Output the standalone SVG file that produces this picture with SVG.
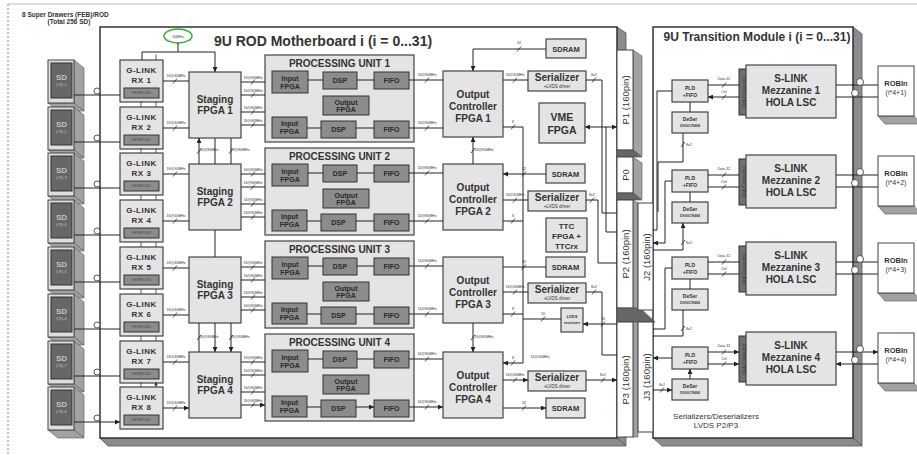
<svg xmlns="http://www.w3.org/2000/svg" width="917" height="455" viewBox="0 0 917 455">
<defs>
<marker id="ah" viewBox="0 0 10 10" refX="10" refY="5" markerWidth="6" markerHeight="5" markerUnits="userSpaceOnUse" orient="auto-start-reverse"><path d="M0,0L10,5L0,10z" fill="#222"/></marker>
<marker id="sm" viewBox="0 0 10 10" refX="10" refY="5" markerWidth="3.5" markerHeight="3.5" markerUnits="userSpaceOnUse" orient="auto"><path d="M0,0L10,5L0,10z" fill="#333"/></marker>
</defs>
<style>
text{font-family:"Liberation Sans",Arial,sans-serif;fill:#333}
.c{text-anchor:middle}
.box{fill:#e4e4e4;stroke:#444;stroke-width:1.2}
.dk{fill:#8c8c8c;stroke:#333;stroke-width:1}
.brd{fill:#fff;stroke:#333;stroke-width:1.5}
.shd{fill:#8c8c8c;stroke:#555;stroke-width:.8}
.cap{fill:#666;stroke:#444;stroke-width:.6}
.side{fill:#a2a2a2;stroke:#555;stroke-width:.6}
.wh{fill:#fff;stroke:#444;stroke-width:1}
.ln{fill:none;stroke:#222;stroke-width:1}
.a{marker-end:url(#ah)}
.d{marker-start:url(#ah);marker-end:url(#ah)}
.s{fill:none;stroke:#333;stroke-width:.8;marker-end:url(#sm)}
.sl{fill:none;stroke:#222;stroke-width:.8}
.t{font-size:3.6px;fill:#444;text-anchor:middle}
.gl{font-size:8px;font-weight:bold;letter-spacing:.5px;text-anchor:middle}
.st{font-size:10px;font-weight:bold;text-anchor:middle}
.in{font-size:7px;font-weight:bold;text-anchor:middle;fill:#2a2a2a}
.sd{font-size:8px;font-weight:bold;text-anchor:middle;fill:#c4c4c4}
.sdt{font-size:3.6px;text-anchor:middle;fill:#c4c4c4}
.sl10{font-size:10px;font-weight:bold;text-anchor:middle}
.rot{font-size:9.5px;text-anchor:middle}
.rb{font-size:7px;text-anchor:middle;fill:#333}
</style>
<rect width="917" height="455" fill="#fff"/>
<g id="frame">
<line x1="8" y1="4" x2="917" y2="4" stroke="#bbb" stroke-width="1"/>
<line x1="8" y1="4" x2="8" y2="455" stroke="#888" stroke-width="1" stroke-dasharray="2,2"/>
<text x="22" y="16.5" font-size="6.5" font-weight="bold">8 Super Drawers (FEB)/ROD</text>
<text x="69" y="24" font-size="6.5" font-weight="bold" class="c">(Total 256 SD)</text>
</g>
<g id="rod-board">
<polygon class="shd" points="617,27 626,33 626,446 617,438"/>
<polygon class="shd" points="100,438 617,438 626,446 108,446"/>
<rect class="brd" x="100" y="27" width="517" height="411"/>
<text x="323" y="46" font-size="14" font-weight="bold" class="c">9U ROD Motherboard i (i = 0...31)</text>
</g>
<g id="tm-board">
<polygon class="shd" points="853,27 862,34 862,446 853,438"/>
<polygon class="shd" points="653,438 853,438 862,446 662,446"/>
<rect class="brd" x="653" y="27" width="200" height="411"/>
<text x="757" y="41" font-size="13" font-weight="bold" class="c" textLength="187" lengthAdjust="spacingAndGlyphs">9U Transition Module i (i = 0...31)</text>
<text x="716" y="419" font-size="8" class="c">Serializers/Deserializers</text>
<text x="716" y="428" font-size="8" class="c">LVDS P2/P3</text>
</g>
<g id="sd1"><polygon class="side" points="74,60 84,68 84,111 74,103"/><polygon class="side" points="48,103 74,103 84,111 58,111"/><rect x="48" y="60" width="26" height="43" fill="#dedede" stroke="#444"/><rect x="51" y="63" width="21" height="35" fill="#666" stroke="#333"/><text class="sd" x="61.5" y="80">SD</text><text class="sdt" x="61.5" y="86">(i*8)+1</text></g>
<g id="sd2"><polygon class="side" points="74,107 84,115 84,158 74,150"/><polygon class="side" points="48,150 74,150 84,158 58,158"/><rect x="48" y="107" width="26" height="43" fill="#dedede" stroke="#444"/><rect x="51" y="110" width="21" height="35" fill="#666" stroke="#333"/><text class="sd" x="61.5" y="127">SD</text><text class="sdt" x="61.5" y="133">(i*8)+2</text></g>
<g id="sd3"><polygon class="side" points="74,153 84,161 84,204 74,196"/><polygon class="side" points="48,196 74,196 84,204 58,204"/><rect x="48" y="153" width="26" height="43" fill="#dedede" stroke="#444"/><rect x="51" y="156" width="21" height="35" fill="#666" stroke="#333"/><text class="sd" x="61.5" y="173">SD</text><text class="sdt" x="61.5" y="179">(i*8)+3</text></g>
<g id="sd4"><polygon class="side" points="74,200 84,208 84,251 74,243"/><polygon class="side" points="48,243 74,243 84,251 58,251"/><rect x="48" y="200" width="26" height="43" fill="#dedede" stroke="#444"/><rect x="51" y="203" width="21" height="35" fill="#666" stroke="#333"/><text class="sd" x="61.5" y="220">SD</text><text class="sdt" x="61.5" y="226">(i*8)+4</text></g>
<g id="sd5"><polygon class="side" points="74,247 84,255 84,298 74,290"/><polygon class="side" points="48,290 74,290 84,298 58,298"/><rect x="48" y="247" width="26" height="43" fill="#dedede" stroke="#444"/><rect x="51" y="250" width="21" height="35" fill="#666" stroke="#333"/><text class="sd" x="61.5" y="267">SD</text><text class="sdt" x="61.5" y="273">(i*8)+5</text></g>
<g id="sd6"><polygon class="side" points="74,294 84,302 84,345 74,337"/><polygon class="side" points="48,337 74,337 84,345 58,345"/><rect x="48" y="294" width="26" height="43" fill="#dedede" stroke="#444"/><rect x="51" y="297" width="21" height="35" fill="#666" stroke="#333"/><text class="sd" x="61.5" y="314">SD</text><text class="sdt" x="61.5" y="320">(i*8)+6</text></g>
<g id="sd7"><polygon class="side" points="74,341 84,349 84,392 74,384"/><polygon class="side" points="48,384 74,384 84,392 58,392"/><rect x="48" y="341" width="26" height="43" fill="#dedede" stroke="#444"/><rect x="51" y="344" width="21" height="35" fill="#666" stroke="#333"/><text class="sd" x="61.5" y="361">SD</text><text class="sdt" x="61.5" y="367">(i*8)+7</text></g>
<g id="sd8"><polygon class="side" points="74,387 84,395 84,438 74,430"/><polygon class="side" points="48,430 74,430 84,438 58,438"/><rect x="48" y="387" width="26" height="43" fill="#dedede" stroke="#444"/><rect x="51" y="390" width="21" height="35" fill="#666" stroke="#333"/><text class="sd" x="61.5" y="407">SD</text><text class="sdt" x="61.5" y="413">(i*8)+8</text></g>
<g id="clk"><ellipse cx="178" cy="36" rx="14" ry="7" fill="#fff" stroke="#3a3" stroke-width="1.5"/><text class="t" x="178" y="37.5">40MHz</text></g>
<g id="glink1"><rect class="box" x="120" y="60" width="43" height="42"/><text class="gl" x="141.5" y="73">G-LINK</text><text class="gl" x="141.5" y="83">RX 1</text><rect class="dk" x="124" y="88" width="35" height="10"/><text class="t" x="141.5" y="94.2">HDMP1034</text></g>
<g id="glink2"><rect class="box" x="120" y="107" width="43" height="42"/><text class="gl" x="141.5" y="120">G-LINK</text><text class="gl" x="141.5" y="130">RX 2</text><rect class="dk" x="124" y="135" width="35" height="10"/><text class="t" x="141.5" y="141.2">HDMP1034</text></g>
<g id="glink3"><rect class="box" x="120" y="153" width="43" height="42"/><text class="gl" x="141.5" y="166">G-LINK</text><text class="gl" x="141.5" y="176">RX 3</text><rect class="dk" x="124" y="181" width="35" height="10"/><text class="t" x="141.5" y="187.2">HDMP1034</text></g>
<g id="glink4"><rect class="box" x="120" y="200" width="43" height="42"/><text class="gl" x="141.5" y="213">G-LINK</text><text class="gl" x="141.5" y="223">RX 4</text><rect class="dk" x="124" y="228" width="35" height="10"/><text class="t" x="141.5" y="234.2">HDMP1034</text></g>
<g id="glink5"><rect class="box" x="120" y="247" width="43" height="42"/><text class="gl" x="141.5" y="260">G-LINK</text><text class="gl" x="141.5" y="270">RX 5</text><rect class="dk" x="124" y="275" width="35" height="10"/><text class="t" x="141.5" y="281.2">HDMP1034</text></g>
<g id="glink6"><rect class="box" x="120" y="294" width="43" height="42"/><text class="gl" x="141.5" y="307">G-LINK</text><text class="gl" x="141.5" y="317">RX 6</text><rect class="dk" x="124" y="322" width="35" height="10"/><text class="t" x="141.5" y="328.2">HDMP1034</text></g>
<g id="glink7"><rect class="box" x="120" y="341" width="43" height="42"/><text class="gl" x="141.5" y="354">G-LINK</text><text class="gl" x="141.5" y="364">RX 7</text><rect class="dk" x="124" y="369" width="35" height="10"/><text class="t" x="141.5" y="375.2">HDMP1034</text></g>
<g id="glink8"><rect class="box" x="120" y="387" width="43" height="42"/><text class="gl" x="141.5" y="400">G-LINK</text><text class="gl" x="141.5" y="410">RX 8</text><rect class="dk" x="124" y="415" width="35" height="10"/><text class="t" x="141.5" y="421.2">HDMP1034</text></g>
<g id="staging1"><rect class="box" x="189" y="72" width="52" height="66"/><text class="st" x="215" y="103">Staging</text><text class="st" x="215" y="114">FPGA 1</text></g>
<g id="staging2"><rect class="box" x="189" y="164" width="52" height="66"/><text class="st" x="215" y="195">Staging</text><text class="st" x="215" y="206">FPGA 2</text></g>
<g id="staging3"><rect class="box" x="189" y="257" width="52" height="66"/><text class="st" x="215" y="288">Staging</text><text class="st" x="215" y="299">FPGA 3</text></g>
<g id="staging4"><rect class="box" x="189" y="352" width="52" height="66"/><text class="st" x="215" y="383">Staging</text><text class="st" x="215" y="394">FPGA 4</text></g>
<g id="pu1"><rect class="box" x="265" y="55" width="149" height="87"/><text class="st" x="339.5" y="67">PROCESSING UNIT 1</text>
<rect class="dk" x="272" y="71" width="36" height="22"/><text class="in" x="290" y="80.5">Input</text><text class="in" x="290" y="88.5">FPGA</text>
<rect class="dk" x="323" y="72" width="34" height="17"/><text class="in" x="340" y="83">DSP</text>
<rect class="dk" x="374" y="72" width="35" height="17"/><text class="in" x="391.5" y="83">FIFO</text>
<rect class="dk" x="323" y="96" width="46" height="19"/><text class="in" x="346" y="104.5">Output</text><text class="in" x="346" y="112">FPGA</text>
<rect class="dk" x="272" y="117" width="35" height="21"/><text class="in" x="289.5" y="126">Input</text><text class="in" x="289.5" y="134">FPGA</text>
<rect class="dk" x="321" y="121" width="35" height="17"/><text class="in" x="338.5" y="132">DSP</text>
<rect class="dk" x="374" y="121" width="35" height="17"/><text class="in" x="391.5" y="132">FIFO</text></g>
<g id="pu2"><rect class="box" x="265" y="148" width="149" height="87"/><text class="st" x="339.5" y="160">PROCESSING UNIT 2</text>
<rect class="dk" x="272" y="164" width="36" height="22"/><text class="in" x="290" y="173.5">Input</text><text class="in" x="290" y="181.5">FPGA</text>
<rect class="dk" x="323" y="165" width="34" height="17"/><text class="in" x="340" y="176">DSP</text>
<rect class="dk" x="374" y="165" width="35" height="17"/><text class="in" x="391.5" y="176">FIFO</text>
<rect class="dk" x="323" y="189" width="46" height="19"/><text class="in" x="346" y="197.5">Output</text><text class="in" x="346" y="205">FPGA</text>
<rect class="dk" x="272" y="210" width="35" height="21"/><text class="in" x="289.5" y="219">Input</text><text class="in" x="289.5" y="227">FPGA</text>
<rect class="dk" x="321" y="214" width="35" height="17"/><text class="in" x="338.5" y="225">DSP</text>
<rect class="dk" x="374" y="214" width="35" height="17"/><text class="in" x="391.5" y="225">FIFO</text></g>
<g id="pu3"><rect class="box" x="265" y="241" width="149" height="87"/><text class="st" x="339.5" y="253">PROCESSING UNIT 3</text>
<rect class="dk" x="272" y="257" width="36" height="22"/><text class="in" x="290" y="266.5">Input</text><text class="in" x="290" y="274.5">FPGA</text>
<rect class="dk" x="323" y="258" width="34" height="17"/><text class="in" x="340" y="269">DSP</text>
<rect class="dk" x="374" y="258" width="35" height="17"/><text class="in" x="391.5" y="269">FIFO</text>
<rect class="dk" x="323" y="282" width="46" height="19"/><text class="in" x="346" y="290.5">Output</text><text class="in" x="346" y="298">FPGA</text>
<rect class="dk" x="272" y="303" width="35" height="21"/><text class="in" x="289.5" y="312">Input</text><text class="in" x="289.5" y="320">FPGA</text>
<rect class="dk" x="321" y="307" width="35" height="17"/><text class="in" x="338.5" y="318">DSP</text>
<rect class="dk" x="374" y="307" width="35" height="17"/><text class="in" x="391.5" y="318">FIFO</text></g>
<g id="pu4"><rect class="box" x="265" y="334" width="149" height="87"/><text class="st" x="339.5" y="346">PROCESSING UNIT 4</text>
<rect class="dk" x="272" y="350" width="36" height="22"/><text class="in" x="290" y="359.5">Input</text><text class="in" x="290" y="367.5">FPGA</text>
<rect class="dk" x="323" y="351" width="34" height="17"/><text class="in" x="340" y="362">DSP</text>
<rect class="dk" x="374" y="351" width="35" height="17"/><text class="in" x="391.5" y="362">FIFO</text>
<rect class="dk" x="323" y="375" width="46" height="19"/><text class="in" x="346" y="383.5">Output</text><text class="in" x="346" y="391">FPGA</text>
<rect class="dk" x="272" y="396" width="35" height="21"/><text class="in" x="289.5" y="405">Input</text><text class="in" x="289.5" y="413">FPGA</text>
<rect class="dk" x="321" y="400" width="35" height="17"/><text class="in" x="338.5" y="411">DSP</text>
<rect class="dk" x="374" y="400" width="35" height="17"/><text class="in" x="391.5" y="411">FIFO</text></g>
<g id="oc1"><rect class="box" x="443" y="71" width="60" height="66"/><text class="st" x="473" y="97.5">Output</text><text class="st" x="473" y="109.5">Controller</text><text class="st" x="473" y="121.5">FPGA 1</text></g>
<g id="oc2"><rect class="box" x="443" y="164" width="60" height="66"/><text class="st" x="473" y="190.5">Output</text><text class="st" x="473" y="202.5">Controller</text><text class="st" x="473" y="214.5">FPGA 2</text></g>
<g id="oc3"><rect class="box" x="443" y="257" width="60" height="66"/><text class="st" x="473" y="283.5">Output</text><text class="st" x="473" y="295.5">Controller</text><text class="st" x="473" y="307.5">FPGA 3</text></g>
<g id="oc4"><rect class="box" x="443" y="352" width="60" height="66"/><text class="st" x="473" y="378.5">Output</text><text class="st" x="473" y="390.5">Controller</text><text class="st" x="473" y="402.5">FPGA 4</text></g>
<g id="sdram1"><rect class="box" x="546" y="39" width="40" height="19"/><text x="566" y="51.5" font-size="7.5" font-weight="bold" class="c">SDRAM</text></g>
<g id="sdram2"><rect class="box" x="546" y="164" width="39" height="19"/><text x="565.5" y="176.5" font-size="7.5" font-weight="bold" class="c">SDRAM</text></g>
<g id="sdram3"><rect class="box" x="546" y="257" width="39" height="20"/><text x="565.5" y="270" font-size="7.5" font-weight="bold" class="c">SDRAM</text></g>
<g id="sdram4"><rect class="box" x="546" y="398" width="39" height="20"/><text x="565.5" y="411" font-size="7.5" font-weight="bold" class="c">SDRAM</text></g>
<g id="ser1"><rect class="box" x="528" y="71" width="58" height="20"/><text class="st" x="557" y="80.5">Serializer</text><text x="557" y="88" font-size="4.5" class="c">+LVDS driver</text></g>
<g id="ser2"><rect class="box" x="528" y="191" width="58" height="20"/><text class="st" x="557" y="200.5">Serializer</text><text x="557" y="208" font-size="4.5" class="c">+LVDS driver</text></g>
<g id="ser3"><rect class="box" x="528" y="283" width="58" height="20"/><text class="st" x="557" y="292.5">Serializer</text><text x="557" y="300" font-size="4.5" class="c">+LVDS driver</text></g>
<g id="ser4"><rect class="box" x="528" y="371" width="58" height="20"/><text class="st" x="557" y="380.5">Serializer</text><text x="557" y="388" font-size="4.5" class="c">+LVDS driver</text></g>
<g id="vme"><rect class="box" x="539" y="103" width="46" height="40"/><text x="562" y="121" font-size="10.5" font-weight="bold" class="c">VME</text><text x="562" y="134" font-size="10.5" font-weight="bold" class="c">FPGA</text></g>
<g id="ttc"><rect class="box" x="546" y="218" width="41" height="34"/><text x="566.5" y="229" font-size="8" font-weight="bold" class="c">TTC</text><text x="566.5" y="239" font-size="8" font-weight="bold" class="c">FPGA +</text><text x="566.5" y="249" font-size="8" font-weight="bold" class="c">TTCrx</text></g>
<g id="lvds"><rect class="box" x="561" y="308" width="22" height="24"/><text x="572" y="318" font-size="4.2" font-weight="bold" class="c">LVDS</text><text x="572" y="324" font-size="4.2" font-weight="bold" class="c">receiver</text></g>
<g id="p1"><polygon class="side" points="633,50 642,56 642,156 633,150"/><rect class="wh" x="617" y="50" width="16" height="100"/><text class="rot" transform="translate(628.5,100) rotate(-90)">P1 (160pin)</text></g>
<g id="p0"><polygon class="cap" points="617,150 633,150 642,157 617,157"/><polygon class="side" points="633,157 642,163 642,199 633,193"/><rect class="wh" x="617" y="157" width="16" height="36"/><text class="rot" transform="translate(628.5,175) rotate(-90)">P0</text></g>
<g id="p2"><polygon class="cap" points="617,193 633,193 642,200 617,200"/><polygon class="side" points="633,200 638,203 638,310 633,308"/><rect class="wh" x="617" y="200" width="16" height="108"/><text class="rot" transform="translate(628.5,254) rotate(-90)">P2 (160pin)</text></g>
<g id="p3"><polygon class="cap" points="617,308 640,308 655,322 617,322"/><polygon class="side" points="633,322 638,322 638,437 633,437"/><rect class="wh" x="617" y="322" width="16" height="115"/><text class="rot" transform="translate(628.5,380) rotate(-90)">P3 (160pin)</text></g>
<g id="j2"><rect class="wh" x="638" y="203" width="15" height="107"/><text class="rot" transform="translate(649.5,257) rotate(-90)">J2 (160pin)</text></g>
<g id="j3"><rect class="wh" x="638" y="322" width="15" height="110"/><text class="rot" transform="translate(649.5,377) rotate(-90)">J3 (160pin)</text></g>
<g id="slink1"><rect class="box" x="672" y="80" width="36" height="22"/><text x="690" y="89.5" font-size="5" font-weight="bold" class="c">PLD</text><text x="690" y="96.5" font-size="5" font-weight="bold" class="c">+FIFO</text>
<rect class="box" x="672" y="112" width="36" height="21"/><text x="690" y="120.5" font-size="5" font-weight="bold" class="c">DeSer</text><text class="t" x="690" y="127" font-weight="bold">DS90CR484</text>
<rect x="739" y="69" width="9" height="46" fill="#707070" stroke="#333"/><text transform="translate(745.5,92) rotate(-90)" font-size="4.5" fill="#ddd" class="c">Link Connector</text>
<rect class="box" x="746" y="65" width="90" height="53"/><text class="sl10" x="791" y="82">S-LINK</text><text class="sl10" x="791" y="94">Mezzanine 1</text><text class="sl10" x="791" y="106">HOLA LSC</text></g>
<g id="slink2"><rect class="box" x="672" y="170" width="36" height="22"/><text x="690" y="179.5" font-size="5" font-weight="bold" class="c">PLD</text><text x="690" y="186.5" font-size="5" font-weight="bold" class="c">+FIFO</text>
<rect class="box" x="672" y="202" width="36" height="21"/><text x="690" y="210.5" font-size="5" font-weight="bold" class="c">DeSer</text><text class="t" x="690" y="217" font-weight="bold">DS90CR484</text>
<rect x="739" y="159" width="9" height="46" fill="#707070" stroke="#333"/><text transform="translate(745.5,182) rotate(-90)" font-size="4.5" fill="#ddd" class="c">Link Connector</text>
<rect class="box" x="746" y="155" width="90" height="53"/><text class="sl10" x="791" y="172">S-LINK</text><text class="sl10" x="791" y="184">Mezzanine 2</text><text class="sl10" x="791" y="196">HOLA LSC</text></g>
<g id="slink3"><rect class="box" x="672" y="257" width="36" height="22"/><text x="690" y="266.5" font-size="5" font-weight="bold" class="c">PLD</text><text x="690" y="273.5" font-size="5" font-weight="bold" class="c">+FIFO</text>
<rect class="box" x="672" y="289" width="36" height="21"/><text x="690" y="297.5" font-size="5" font-weight="bold" class="c">DeSer</text><text class="t" x="690" y="304" font-weight="bold">DS90CR484</text>
<rect x="739" y="246" width="9" height="46" fill="#707070" stroke="#333"/><text transform="translate(745.5,269) rotate(-90)" font-size="4.5" fill="#ddd" class="c">Link Connector</text>
<rect class="box" x="746" y="242" width="90" height="53"/><text class="sl10" x="791" y="259">S-LINK</text><text class="sl10" x="791" y="271">Mezzanine 3</text><text class="sl10" x="791" y="283">HOLA LSC</text></g>
<g id="slink4"><rect class="box" x="672" y="347" width="36" height="22"/><text x="690" y="356.5" font-size="5" font-weight="bold" class="c">PLD</text><text x="690" y="363.5" font-size="5" font-weight="bold" class="c">+FIFO</text>
<rect class="box" x="672" y="379" width="36" height="21"/><text x="690" y="387.5" font-size="5" font-weight="bold" class="c">DeSer</text><text class="t" x="690" y="394" font-weight="bold">DS90CR484</text>
<rect x="739" y="336" width="9" height="46" fill="#707070" stroke="#333"/><text transform="translate(745.5,359) rotate(-90)" font-size="4.5" fill="#ddd" class="c">Link Connector</text>
<rect class="box" x="746" y="332" width="90" height="53"/><text class="sl10" x="791" y="349">S-LINK</text><text class="sl10" x="791" y="361">Mezzanine 4</text><text class="sl10" x="791" y="373">HOLA LSC</text></g>
<g id="robin1"><polygon class="side" points="878,116 914,116 921,124 885,124"/><rect class="wh" x="878" y="66" width="36" height="50"/><text x="896" y="86" font-size="7.5" font-weight="bold" class="c">ROBIn</text><text class="rb" x="896" y="95">(i*4+1)</text></g>
<g id="robin2"><polygon class="side" points="878,206 914,206 921,214 885,214"/><rect class="wh" x="878" y="156" width="36" height="50"/><text x="896" y="176" font-size="7.5" font-weight="bold" class="c">ROBIn</text><text class="rb" x="896" y="185">(i*4+2)</text></g>
<g id="robin3"><polygon class="side" points="878,293 914,293 921,301 885,301"/><rect class="wh" x="878" y="243" width="36" height="50"/><text x="896" y="263" font-size="7.5" font-weight="bold" class="c">ROBIn</text><text class="rb" x="896" y="272">(i*4+3)</text></g>
<g id="robin4"><polygon class="side" points="878,383 914,383 921,391 885,391"/><rect class="wh" x="878" y="333" width="36" height="50"/><text x="896" y="353" font-size="7.5" font-weight="bold" class="c">ROBIn</text><text class="rb" x="896" y="362">(i*4+4)</text></g>
<g id="connectors">
<path class="ln a" d="M74,95H120M74,142H120M74,188H120M74,235H120M74,282H120M74,329H120M74,376H120M74,422H120"/>
<g fill="#fff" stroke="#444" stroke-width=".9"><circle cx="97" cy="91" r="3"/><circle cx="97" cy="138" r="3"/><circle cx="97" cy="184" r="3"/><circle cx="97" cy="231" r="3"/><circle cx="97" cy="278" r="3"/><circle cx="97" cy="325" r="3"/><circle cx="97" cy="372" r="3"/><circle cx="97" cy="418" r="3"/></g>
<path class="ln" d="M178,43V52M142,52H215"/>
<path class="ln a" d="M142,52V60M215,52V72"/>
<path class="s" d="M156,60V54.5M141,101.5V107M156,107V101.5M141,148V153M156,153V148M141,195V200M156,200V195M141,242V247M156,247V242M141,289V294M156,294V289M141,336V341M156,341V336M141,382V387M156,387V382"/>
<path class="ln a" d="M163,81H189M163,128H189M163,174H189M163,221H189M163,268H189M163,315H189M163,362H189M163,408H189"/>
<path class="ln a" d="M241,82H265M241,95H265M241,112H265M241,125H265M241,174H265M241,187H265M241,204H265M241,217H265M241,267H265M241,280H265M241,297H265M241,310H265M241,362H265M241,375H265M241,392H265M241,405H265"/>
<path class="ln d" d="M199,138V164M231,138V164M199,323V352M231,323V352"/>
<path class="ln a" d="M215,138V164M215,230V257M215,323V352"/>
<path class="ln a" d="M308,80H323M357,80H374M307,128H321M356,128H374M308,173H323M357,173H374M307,221H321M356,221H374M308,266H323M357,266H374M307,314H321M356,314H374M308,359H323M357,359H374M307,407H321M356,407H374"/>
<path class="ln a" d="M409,80H443M409,128H443M409,173H443M409,221H443M409,266H443M409,314H443M409,359H443M409,407H443"/>
<path class="ln d" d="M473,137V164M473,323V352"/>
<path class="ln a" d="M546,49H473V71"/>
<path class="ln d" d="M503,174H546M503,267H546M503,408H546"/>
<path class="ln a" d="M503,80H528M503,200H528M503,292H528M503,380H528"/>
<path class="ln" d="M523,127V363"/>
<path class="ln a" d="M523,127H503M523,221H503M523,314H503M523,363H503"/>
<path class="ln" d="M561,319H523"/>
<path class="ln a" d="M617,324H583"/>
<path class="ln d" d="M585,127H617"/>
<path class="ln a" d="M586,80H602V213H617M606,127V232H617M586,200H598V263H617M586,292H602V355H617M586,380H617"/>
<path class="ln a" d="M708,85H739M708,175H739M708,262H739M708,352H739"/>
<path class="ln d" d="M708,97H739M708,187H739M708,274H739M708,364H739"/>
<path class="ln a" d="M690,112V102M690,202V192M690,289V279M690,379V369"/>
<path class="ln a" d="M836,85H878M836,175H878M836,262H878M836,352H878"/>
<path class="ln a" d="M878,97H836M878,187H836M878,274H836M878,364H836"/>
<g fill="#fff" stroke="#444" stroke-width=".9"><circle cx="860" cy="82" r="3.5"/><circle cx="855" cy="93" r="3.5"/><circle cx="860" cy="172" r="3.5"/><circle cx="855" cy="183" r="3.5"/><circle cx="860" cy="259" r="3.5"/><circle cx="855" cy="270" r="3.5"/><circle cx="860" cy="349" r="3.5"/><circle cx="855" cy="360" r="3.5"/></g>
<path class="ln a" d="M672,91H657V230H653M672,181H665V243H653"/>
<path class="ln a" d="M658,212V162H683V133M653,250H683V223"/>
<path class="ln a" d="M672,268H665V329H653M672,358H653"/>
<path class="ln a" d="M653,336H683V310M653,390H672"/>
<path class="sl" d="M173,83.5l4,-5M173,130.5l4,-5M173,176.5l4,-5M173,223.5l4,-5M173,270.5l4,-5M173,317.5l4,-5M173,364.5l4,-5M173,410.5l4,-5M251,84.5l4,-5M251,97.5l4,-5M251,114.5l4,-5M251,127.5l4,-5M251,176.5l4,-5M251,189.5l4,-5M251,206.5l4,-5M251,219.5l4,-5M251,269.5l4,-5M251,282.5l4,-5M251,299.5l4,-5M251,312.5l4,-5M251,364.5l4,-5M251,377.5l4,-5M251,394.5l4,-5M251,407.5l4,-5M425,82.5l4,-5M425,130.5l4,-5M425,175.5l4,-5M425,223.5l4,-5M425,268.5l4,-5M425,316.5l4,-5M425,361.5l4,-5M425,409.5l4,-5M197,153.5l4,-5M229,153.5l4,-5M197,340l4,-5M229,340l4,-5M471,153l4,-5M471,340l4,-5M517,51.5l4,-5M522,176.5l4,-5M522,269.5l4,-5M522,410.5l4,-5M513,82.5l4,-5M513,202.5l4,-5M513,294.5l4,-5M513,382.5l4,-5M511,129.5l4,-5M511,223.5l4,-5M511,316.5l4,-5M511,365.5l4,-5M592,82.5l4,-5M590,202.5l4,-5M592,294.5l4,-5M601,382.5l4,-5M601,326.5l4,-5M541,321.5l4,-5M722,87.5l4,-5M722,99.5l4,-5M722,177.5l4,-5M722,189.5l4,-5M722,264.5l4,-5M722,276.5l4,-5M722,354.5l4,-5M722,366.5l4,-5M681,147l4,-5M681,245l4,-5M681,331l4,-5M660,392.5l4,-5"/>
<g class="t">
<text x="176" y="77">16@40MHz</text><text x="176" y="124">16@40MHz</text><text x="176" y="170">16@40MHz</text><text x="176" y="217">16@40MHz</text><text x="176" y="264">16@40MHz</text><text x="176" y="311">16@40MHz</text><text x="176" y="358">16@40MHz</text><text x="176" y="404">16@40MHz</text>
<text x="253" y="78.5">16@80MHz</text><text x="253" y="91.5">16@80MHz</text><text x="253" y="108.5">16@80MHz</text><text x="253" y="121.5">16@80MHz</text>
<text x="253" y="170.5">16@80MHz</text><text x="253" y="183.5">16@80MHz</text><text x="253" y="200.5">16@80MHz</text><text x="253" y="213.5">16@80MHz</text>
<text x="253" y="263.5">16@80MHz</text><text x="253" y="276.5">16@80MHz</text><text x="253" y="293.5">16@80MHz</text><text x="253" y="306.5">16@80MHz</text>
<text x="253" y="358.5">16@80MHz</text><text x="253" y="371.5">16@80MHz</text><text x="253" y="388.5">16@80MHz</text><text x="253" y="401.5">16@80MHz</text>
<text x="427" y="76">16@80MHz</text><text x="427" y="124">16@80MHz</text><text x="427" y="169">16@80MHz</text><text x="427" y="217">16@80MHz</text><text x="427" y="262">16@80MHz</text><text x="427" y="310">16@80MHz</text><text x="427" y="355">16@80MHz</text><text x="427" y="403">16@80MHz</text>
<text x="209" y="151">16@80MHz</text><text x="240" y="151">16@80MHz</text><text x="209" y="338">16@80MHz</text><text x="240" y="338">16@80MHz</text>
<text x="484" y="151">16@80MHz</text><text x="484" y="338">16@80MHz</text>
<text x="519" y="44">32</text><text x="524" y="170">32</text><text x="524" y="263">32</text><text x="524" y="404">32</text>
<text x="515" y="76">16@40MHz</text><text x="515" y="196">16@40MHz</text><text x="515" y="288">16@40MHz</text><text x="515" y="376">16@40MHz</text>
<text x="513" y="123">8</text><text x="513" y="217">8</text><text x="513" y="310">8</text><text x="513" y="359">8</text>
<text x="540" y="358">16@40MHz</text>
<text x="594" y="76">8x2</text><text x="592" y="196">8x2</text><text x="594" y="288">8x2</text><text x="603" y="376">8x2</text>
<text x="603" y="320">16</text><text x="543" y="315">16</text>
<text x="724" y="80">Data 32</text><text x="724" y="93">Ctrl</text><text x="724" y="170">Data 32</text><text x="724" y="183">Ctrl</text><text x="724" y="257">Data 32</text><text x="724" y="270">Ctrl</text><text x="724" y="347">Data 32</text><text x="724" y="360">Ctrl</text>
<text x="689" y="146">8x2</text><text x="689" y="244">8x2</text><text x="689" y="330">8x2</text><text x="662" y="386">8x2</text>
</g>
</g>
</svg>
